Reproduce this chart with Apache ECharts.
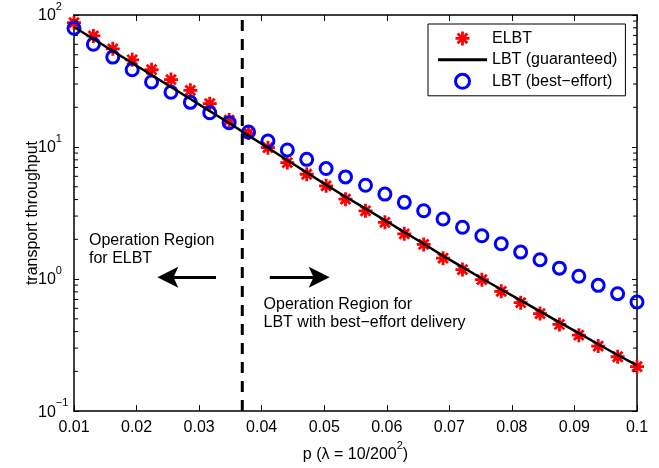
<!DOCTYPE html>
<html><head><meta charset="utf-8">
<script src="https://cdn.jsdelivr.net/npm/echarts@6/dist/echarts.min.js"></script>
<style>html,body{margin:0;padding:0;background:#fff}#c{width:659px;height:468px}</style>
</head><body><div id="c"></div>
<script>
// ---- data ----
const pValues = [0.0100, 0.0131, 0.0162, 0.0193, 0.0224, 0.0255, 0.0286, 0.0317, 0.0348, 0.0379,
  0.0410, 0.0441, 0.0472, 0.0503, 0.0534, 0.0566, 0.0597, 0.0628, 0.0659, 0.0690,
  0.0721, 0.0752, 0.0783, 0.0814, 0.0845, 0.0876, 0.0907, 0.0938, 0.0969, 0.1000];
const elbt = [87.5, 69.4, 55.4, 45.8, 38.5, 32.4, 26.9, 21.3, 16.0, 12.8,
  9.89, 7.62, 6.22, 5.08, 4.03, 3.29, 2.69, 2.20, 1.83, 1.44,
  1.18, 0.989, 0.807, 0.663, 0.548, 0.453, 0.376, 0.311, 0.258, 0.217];
const lbtGuaranteed = [81.2, 65.8, 53.4, 43.3, 35.1, 28.5, 23.1, 18.7, 15.2, 12.2,
  9.87, 7.95, 6.41, 5.17, 4.20, 3.42, 2.79, 2.27, 1.85, 1.50,
  1.23, 1.01, 0.834, 0.689, 0.569, 0.470, 0.389, 0.321, 0.266, 0.222];
const lbtBestEffort = [79.4, 60.1, 48.0, 38.5, 31.1, 26.0, 21.8, 18.2, 15.3, 13.0,
  11.1, 9.49, 8.07, 6.87, 5.94, 5.14, 4.40, 3.81, 3.29, 2.85,
  2.47, 2.13, 1.85, 1.60, 1.40, 1.21, 1.05, 0.896, 0.775, 0.671];
const seriesNames = ['ELBT', 'LBT (guaranteed)', 'LBT (best\u2212effort)'];
const xMin = 0.01, xMax = 0.1, xStep = 0.01;
const yTickValues = [0.1, 1, 10, 100];
const yTickExponents = ['\u22121', '0', '1', '2'];
const minorTickValues = [0.2, 0.3, 0.4, 0.5, 0.6, 0.7, 0.8, 0.9, 2, 3, 4, 5, 6, 7, 8, 9, 20, 30, 40, 50, 60, 70, 80, 90];
const boundaryP = 0.0369;
const arrowLeft = [0.0327, 0.0250];   // tail, head (p)
const arrowRight = [0.0413, 0.0492];
const arrowLevel = 1.03;
const noteLeft = {p: 0.0124, v: 1.67, text: 'Operation Region\nfor ELBT'};
const noteRight = {p: 0.0403, v: 0.546, text: 'Operation Region for\nLBT with best\u2212effort delivery'};
const xAxisTitle = 'p (\u03bb = 10/200{sup|2})';
const yAxisTitle = 'transport throughput';

// ---- chart ----
const FONT = '"Liberation Sans", Arial, Helvetica, sans-serif';
const zip = (a, b) => a.map((x, i) => [x, b[i]]);
const starPath = 'path://M5,0L5,10M0,5L10,5M1.5,1.5L8.5,8.5M1.5,8.5L8.5,1.5';
const arrowHead = 'path://M10,0L20,22L10,17L0,22Z';
const lineIcon = 'path://M0,0L49,0L49,3L0,3Z';
const supRich = {
  b: {fontSize: 16, fontFamily: FONT, color: '#000', verticalAlign: 'bottom', lineHeight: 18},
  sup: {fontSize: 11, fontFamily: FONT, color: '#000', verticalAlign: 'bottom', lineHeight: 11, padding: [0, 0, 12, 0]}
};
const chart = echarts.init(document.getElementById('c'), null, {renderer: 'canvas'});
const axisLine = {show: true, lineStyle: {color: '#000', width: 1.5}};
const option = {
  animation: false,
  backgroundColor: '#fff',
  grid: {left: 74, right: 22, top: 15, bottom: 55, containLabel: false},
  legend: {
    data: [
      {name: seriesNames[0], itemStyle: {borderWidth: 2.8}},
      {name: seriesNames[1], icon: lineIcon, itemStyle: {color: '#000', borderWidth: 0}},
      {name: seriesNames[2], itemStyle: {borderWidth: 3}}
    ],
    orient: 'vertical', left: 428, top: 24,
    padding: [6, 8, 6, 10], itemGap: 5, itemWidth: 49, itemHeight: 14,
    borderColor: '#000', borderWidth: 1, backgroundColor: '#fff', selectedMode: false,
    textStyle: {fontSize: 16, fontFamily: FONT, color: '#000'}
  },
  xAxis: [{
    type: 'value', min: xMin, max: xMax, interval: xStep, position: 'bottom',
    name: xAxisTitle, nameLocation: 'middle', nameGap: 26,
    nameTextStyle: {rich: supRich, fontSize: 16, fontFamily: FONT, color: '#000'},
    axisLine, splitLine: {show: false},
    axisTick: {inside: true, length: 6, lineStyle: {color: '#000', width: 1}},
    axisLabel: {margin: 8, fontSize: 16, fontFamily: FONT, color: '#000'}
  }, {
    type: 'value', min: xMin, max: xMax, interval: xStep, position: 'top',
    axisLine, splitLine: {show: false},
    axisTick: {inside: true, length: 6, lineStyle: {color: '#000', width: 1}},
    axisLabel: {show: false}
  }],
  yAxis: [{
    type: 'log', logBase: 10, min: 0.1, max: 100, position: 'left',
    name: yAxisTitle, nameLocation: 'middle', nameGap: 33, nameMoveOverlap: false,
    nameTextStyle: {fontSize: 16, fontFamily: FONT, color: '#000'},
    axisLine, splitLine: {show: false},
    axisTick: {inside: true, length: 5, lineStyle: {color: '#000', width: 1}},
    axisLabel: {
      align: 'left', margin: 36, rich: supRich,
      formatter: (v) => {
        const k = yTickValues.findIndex(t => Math.abs(Math.log10(t) - Math.log10(v)) < 1e-6);
        return k < 0 ? '' : '{b|10}{sup|' + yTickExponents[k] + '}';
      }
    }
  }, {
    type: 'log', logBase: 10, min: 0.1, max: 100, position: 'right',
    axisLine, splitLine: {show: false},
    axisTick: {inside: true, length: 5, lineStyle: {color: '#000', width: 1}},
    axisLabel: {show: false}
  }],
  series: [{
    type: 'custom', name: 'minorTicks', silent: true, z: 5,
    data: minorTickValues.map(v => [xMin, v]),
    renderItem: (params, api) => {
      const v = api.value(1);
      const l = api.coord([xMin, v]);
      const r = api.coord([xMax, v]);
      const st = {stroke: '#000', lineWidth: 1};
      return {type: 'group', children: [
        {type: 'line', shape: {x1: l[0], y1: l[1], x2: l[0] + 4, y2: l[1]}, style: st},
        {type: 'line', shape: {x1: r[0], y1: r[1], x2: r[0] - 4, y2: r[1]}, style: st}
      ]};
    }
  }, {
    type: 'line', name: 'boundary', silent: true,
    data: [[boundaryP, 0.1], [boundaryP, 100]],
    symbol: 'none',
    lineStyle: {color: '#000', width: 3, type: [11, 8]},
    markLine: {
      silent: true, symbol: ['none', arrowHead], symbolSize: 21,
      label: {show: false},
      lineStyle: {color: '#000', width: 3, type: 'solid'},
      itemStyle: {color: '#000'},
      emphasis: {disabled: true},
      data: [
        [{coord: [arrowLeft[0], arrowLevel]}, {coord: [arrowLeft[1], arrowLevel]}],
        [{coord: [arrowRight[0], arrowLevel]}, {coord: [arrowRight[1], arrowLevel]}]
      ]
    }
  }, {
    type: 'scatter', name: seriesNames[0],
    data: zip(pValues, elbt),
    symbol: starPath, symbolSize: 14, symbolKeepAspect: true,
    itemStyle: {color: '#ff0000', borderColor: '#ff0000', borderWidth: 2.8, opacity: 1},
    emphasis: {disabled: true}
  }, {
    type: 'line', name: seriesNames[1],
    data: zip(pValues, lbtGuaranteed),
    symbol: 'none', smooth: false,
    lineStyle: {color: '#000', width: 2.5},
    itemStyle: {color: '#000'},
    emphasis: {disabled: true}
  }, {
    type: 'scatter', name: seriesNames[2],
    data: zip(pValues, lbtBestEffort),
    symbol: 'circle', symbolSize: 12,
    itemStyle: {color: 'rgba(0,0,255,0)', borderColor: '#0000ff', borderWidth: 3, opacity: 1},
    emphasis: {disabled: true}
  }]
};
chart.setOption(option);

function notePos(n) { return chart.convertToPixel({seriesIndex: 2}, [n.p, n.v]); }
const pl = notePos(noteLeft), pr = notePos(noteRight);
const noteStyle = (n, p) => ({
  text: n.text, x: p[0], y: p[1], fill: '#000',
  font: '16px ' + FONT, lineHeight: 18,
  align: 'left', verticalAlign: 'middle', textAlign: 'left', textVerticalAlign: 'middle'
});
chart.setOption({graphic: [
  {type: 'text', silent: true, z: 100, style: noteStyle(noteLeft, pl)},
  {type: 'text', silent: true, z: 100, style: noteStyle(noteRight, pr)}
]});
</script></body></html>
